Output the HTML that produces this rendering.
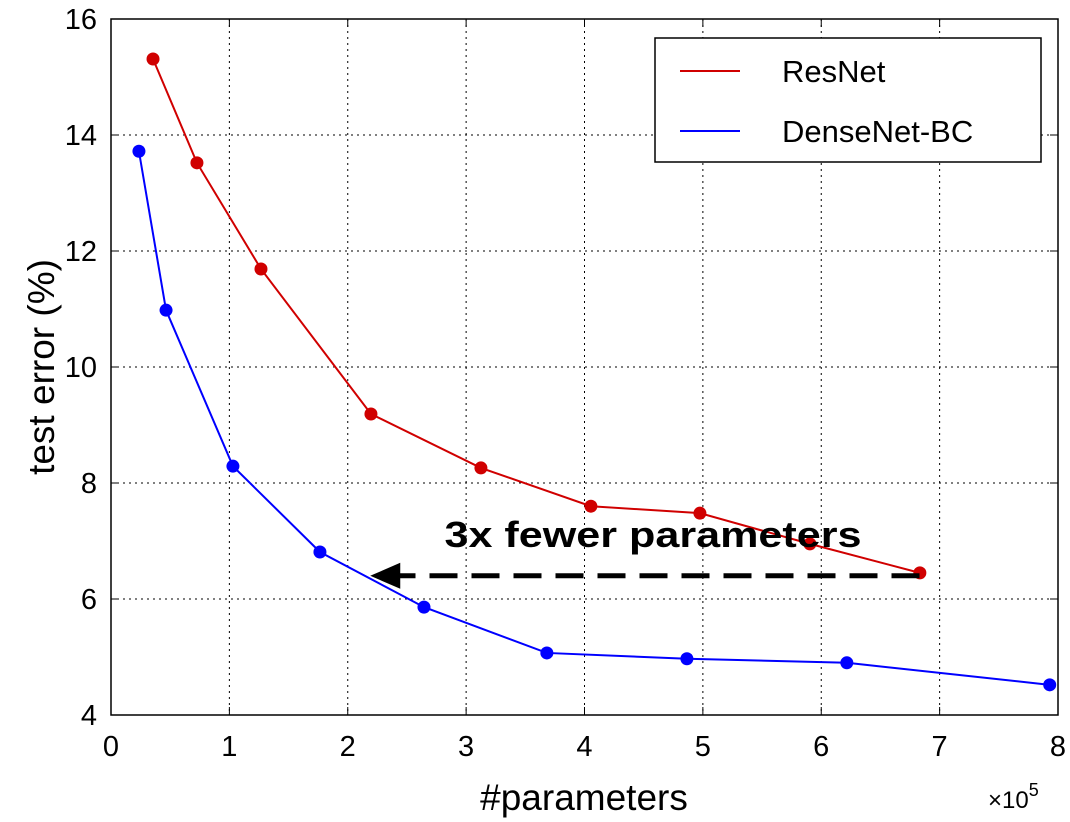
<!DOCTYPE html>
<html><head><meta charset="utf-8"><style>
body{margin:0;background:#fff;}
svg{display:block;font-family:"Liberation Sans",Arial,sans-serif;}
</style></head><body>
<svg id="chart" width="1070" height="822">
<g id="grid"></g>
<g id="series"></g>
<rect x="111" y="19" width="947" height="696" fill="none" stroke="#000" stroke-width="1.5"/>
<g id="ticks"></g>
<text x="584" y="810" font-size="37" text-anchor="middle">#parameters</text>
<text transform="translate(54,367) rotate(-90)" font-size="37" text-anchor="middle">test error (%)</text>
<text x="988" y="808" font-size="24">×10<tspan dy="-12" font-size="18">5</tspan></text>
<g>
<rect x="655" y="38" width="386" height="124" fill="#fff" stroke="#000" stroke-width="1.5"/>
<line x1="680" y1="71" x2="740" y2="71" stroke="#d00000" stroke-width="2"/>
<text x="782" y="82" font-size="31">ResNet</text>
<line x1="680" y1="131" x2="740" y2="131" stroke="#0000ff" stroke-width="2"/>
<text x="782" y="142" font-size="31">DenseNet-BC</text>
</g>
<g id="annot"></g>
</svg>
<script>
const xTicks=[0,1,2,3,4,5,6,7,8];
const yTicks=[4,6,8,10,12,14,16];
const resX=[0.355,0.726,1.267,2.196,3.125,4.054,4.975,5.904,6.833];
const resY=[15.31,13.52,11.69,9.19,8.26,7.60,7.48,6.95,6.45];
const denX=[0.236,0.465,1.03,1.765,2.644,3.682,4.865,6.216,7.93];
const denY=[13.72,10.98,8.29,6.81,5.86,5.07,4.97,4.90,4.52];
const arrowFrom=[6.83,6.4], arrowTo=[2.19,6.4];
const NS="http://www.w3.org/2000/svg";
const X=v=>111+v*118.375, Y=v=>715-(v-4)*58;
function mk(p,t,a){const e=document.createElementNS(NS,t);for(const k in a)e.setAttribute(k,a[k]);p.appendChild(e);return e;}
const grid=document.getElementById('grid'),ticks=document.getElementById('ticks'),ser=document.getElementById('series'),an=document.getElementById('annot');
xTicks.forEach(v=>{
 const l=mk(grid,'line',{x1:X(v),x2:X(v),y1:19,y2:715,stroke:'#000','stroke-width':1,'stroke-dasharray':'2,4'});
 
 mk(ticks,'line',{x1:X(v),x2:X(v),y1:715,y2:707,stroke:'#000'});
 mk(ticks,'line',{x1:X(v),x2:X(v),y1:19,y2:27,stroke:'#000'});
 const t=mk(ticks,'text',{x:X(v),y:756,'font-size':29,'text-anchor':'middle'});t.textContent=v;
 
});
yTicks.forEach(v=>{
 const l=mk(grid,'line',{x1:111,x2:1058,y1:Y(v),y2:Y(v),stroke:'#000','stroke-width':1,'stroke-dasharray':'2,4'});
 
 mk(ticks,'line',{x1:111,x2:119,y1:Y(v),y2:Y(v),stroke:'#000'});
 mk(ticks,'line',{x1:1050,x2:1058,y1:Y(v),y2:Y(v),stroke:'#000'});
 const t=mk(ticks,'text',{x:97,y:Y(v)+10,'font-size':29,'text-anchor':'end'});t.textContent=v;
 
});
function series(xs,ys,c,name){
 const pl=mk(ser,'polyline',{points:xs.map((x,i)=>X(x)+','+Y(ys[i])).join(' '),fill:'none',stroke:c,'stroke-width':2});
 
 xs.forEach((x,i)=>{const p=mk(ser,'circle',{cx:X(x),cy:Y(ys[i]),r:6.5,fill:c});
  });
}
series(resX,resY,'#d00000','resnet');
series(denX,denY,'#0000ff','densenet');
const ax=mk(an,'line',{x1:X(arrowFrom[0]),y1:Y(arrowFrom[1]),x2:X(arrowTo[0])+28,y2:Y(arrowTo[1]),stroke:'#000','stroke-width':5,'stroke-dasharray':'28,14'});

const tx=X(arrowTo[0]),ty=Y(arrowTo[1]);
const ah=mk(an,'polygon',{points:`${tx},${ty} ${tx+30},${ty-13} ${tx+30},${ty+13}`,fill:'#000'});

const at=mk(an,'text',{x:653,y:547,'font-size':36,'font-weight':'bold','text-anchor':'middle',textLength:417,lengthAdjust:'spacingAndGlyphs'});at.textContent='3x fewer parameters';

</script>
</body></html>
